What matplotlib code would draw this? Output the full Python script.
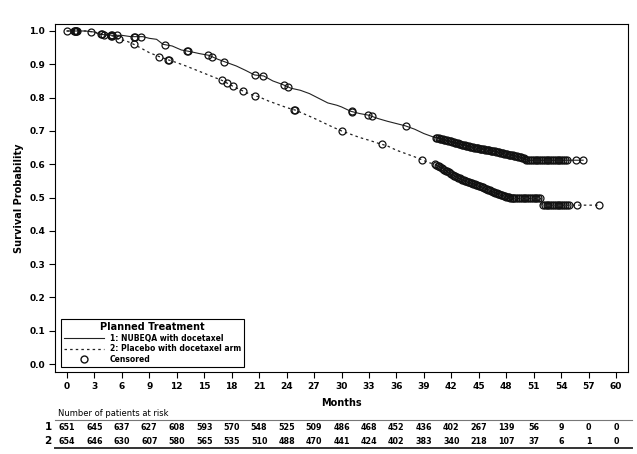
import numpy as np
import matplotlib
matplotlib.use("Agg")
import matplotlib.pyplot as plt
from matplotlib.lines import Line2D
from matplotlib.transforms import blended_transform_factory

plt.rcParams['font.family'] = ['DejaVu Sans']

# arm 1: NUBEQA with docetaxel (months, survival)
arm1_t = [0, 2, 3, 3.5, 5, 6, 7, 8.3, 9, 9.8, 10.5, 11.5, 12.5, 13.5, 14.5, 15.5,
          16.5, 17.5, 18.5, 19.5, 20.5, 21.5, 22.5, 23.5, 24.5, 25.5, 26.5, 27.5,
          28.5, 29.5, 30, 31, 32, 33, 34, 35, 36, 37, 38, 39, 40, 41, 42, 43, 44,
          45, 46, 47, 48, 49, 50, 50.3, 56.4]
arm1_s = [1.0, 1.0, 0.997, 0.99, 0.987, 0.987, 0.983, 0.983, 0.978, 0.975, 0.96,
          0.955, 0.943, 0.938, 0.932, 0.927, 0.915, 0.905, 0.895, 0.882, 0.868,
          0.865, 0.85, 0.84, 0.828, 0.822, 0.812, 0.798, 0.784, 0.777, 0.772,
          0.759, 0.752, 0.747, 0.737, 0.729, 0.722, 0.715, 0.705, 0.692, 0.682,
          0.675, 0.668, 0.66, 0.653, 0.647, 0.642, 0.637, 0.63, 0.625, 0.618,
          0.612, 0.612]

# arm 2: placebo with docetaxel arm
arm2_t = [0, 2, 3, 4, 5, 5.7, 6.5, 7.3, 8, 9, 10, 11, 12, 13, 14, 15, 16, 17, 18,
          19, 20, 21, 22, 23, 24, 25, 26, 27, 28, 29, 30, 31, 32, 33, 34, 35, 36,
          37, 38, 38.8, 39.5, 40.2, 41, 42, 43, 44, 45, 46, 47, 48, 48.8, 51.8,
          51.8, 58.1]
arm2_s = [1.0, 1.0, 0.997, 0.99, 0.985, 0.975, 0.97, 0.96, 0.95, 0.935, 0.924,
          0.914, 0.905, 0.895, 0.884, 0.873, 0.862, 0.851, 0.836, 0.823, 0.81,
          0.802, 0.79, 0.78, 0.77, 0.762, 0.75, 0.738, 0.725, 0.712, 0.70, 0.69,
          0.68, 0.672, 0.663, 0.655, 0.642, 0.632, 0.622, 0.613, 0.605, 0.60,
          0.588, 0.57, 0.556, 0.545, 0.535, 0.524, 0.512, 0.503, 0.497, 0.497,
          0.477, 0.477]

# censored times
cens1 = [0, 0.8, 0.9, 1.0, 1.1, 2.6, 3.7, 4.0, 4.8, 4.9, 5.5, 7.3, 7.4, 8.1,
         10.7, 13.1, 13.2, 15.4, 15.8, 17.2, 20.6, 21.4, 23.7, 24.2, 31.1, 31.2,
         32.9, 33.3, 37.1,
         40.3, 40.45, 40.6, 40.75, 40.9, 41.05, 41.2, 41.35, 41.5, 41.65, 41.8,
         41.95, 42.1, 42.25, 42.4, 42.55, 42.7, 42.85, 43.0, 43.15, 43.3, 43.45,
         43.6, 43.75, 43.9, 44.05, 44.2, 44.35, 44.5, 44.65, 44.8, 44.95, 45.1,
         45.25, 45.4, 45.55, 45.7, 45.85, 46.0, 46.15, 46.3, 46.45, 46.6, 46.75,
         46.9, 47.05, 47.2, 47.35, 47.5, 47.65, 47.8, 47.95, 48.1, 48.25, 48.4,
         48.55, 48.7, 48.85, 49.0, 49.15, 49.3, 49.45, 49.6, 49.75, 49.9, 50.05,
         50.2, 50.4, 50.6, 50.8, 51.0, 51.2, 51.4, 51.6, 51.8, 52.0, 52.2, 52.4,
         52.6, 52.8, 53.0, 53.2, 53.4, 53.6, 53.8, 54.0, 54.2, 54.4, 54.6,
         55.6, 56.4]
cens2 = [0.9, 1.0, 3.8, 4.8, 4.9, 5.7, 7.3, 10.1, 11.0, 11.1, 16.9, 17.5, 18.1,
         19.2, 20.6, 24.8, 24.9, 30.0, 34.4, 38.8,
         40.2, 40.35, 40.5, 40.65, 40.8, 40.95, 41.1, 41.25, 41.4, 41.55, 41.7,
         41.85, 42.0, 42.15, 42.3, 42.45, 42.6, 42.75, 42.9, 43.05, 43.2, 43.35,
         43.5, 43.65, 43.8, 43.95, 44.1, 44.25, 44.4, 44.55, 44.7, 44.85, 45.0,
         45.15, 45.3, 45.45, 45.6, 45.75, 45.9, 46.05, 46.2, 46.35, 46.5, 46.65,
         46.8, 46.95, 47.1, 47.25, 47.4, 47.55, 47.7, 47.85, 48.0, 48.15, 48.3,
         48.45, 48.6, 48.75, 48.9, 49.1, 49.3, 49.5, 49.7, 49.9, 50.1, 50.3,
         50.5, 50.7, 50.9, 51.1, 51.3, 51.5, 51.7,
         52.0, 52.2, 52.4, 52.6, 52.8, 53.0, 53.2, 53.4, 53.6, 53.8, 54.0, 54.2,
         54.4, 54.6, 54.8, 55.7, 58.1]

# number at risk
risk_months = list(range(0, 61, 3))
risk1 = [651, 645, 637, 627, 608, 593, 570, 548, 525, 509, 486, 468, 452, 436,
         402, 267, 139, 56, 9, 0, 0]
risk2 = [654, 646, 630, 607, 580, 565, 535, 510, 488, 470, 441, 424, 402, 383,
         340, 218, 107, 37, 6, 1, 0]

fig = plt.figure(figsize=(6.37, 4.54), dpi=100)
ax = fig.add_axes([55 / 637, 82 / 454, 573 / 637, 348 / 454])

ax.plot(arm1_t, arm1_s, color='#222222', lw=0.8)
ax.plot(arm2_t, arm2_s, color='#222222', lw=0.9, linestyle=(0, (2, 2.5)))
ax.plot(cens1, np.interp(cens1, arm1_t, arm1_s), 'o', mfc='none', mec='#111111',
        ms=5, mew=0.9)
ax.plot(cens2, np.interp(cens2, arm2_t, arm2_s), 'o', mfc='none', mec='#111111',
        ms=5, mew=0.9)

ax.set_xlim(-1.3, 61.3)
ax.set_ylim(-0.024, 1.021)
ax.set_xticks(risk_months)
ax.set_yticks(np.arange(0, 1.01, 0.1))
ax.set_yticklabels([f"{v:.1f}" for v in np.arange(0, 1.01, 0.1)])
ax.tick_params(labelsize=6.5, length=4, width=0.8, pad=3)
for lab in ax.get_xticklabels() + ax.get_yticklabels():
    lab.set_fontweight('bold')
for sp in ax.spines.values():
    sp.set_linewidth(0.8)
ax.set_xlabel("Months", fontsize=7, fontweight='bold', labelpad=5)
ax.set_ylabel("Survival Probability", fontsize=7, fontweight='bold', labelpad=4)

handles = [Line2D([], [], color='#222222', lw=0.8),
           Line2D([], [], color='#222222', lw=0.9, linestyle=(0, (2, 2.5))),
           Line2D([], [], marker='o', mfc='none', mec='#111111', ls='none', ms=5)]
labels = ["1: NUBEQA with docetaxel", "2: Placebo with docetaxel arm", "Censored"]
leg = ax.legend(handles, labels, title="Planned Treatment", loc='lower left',
                bbox_to_anchor=(0.0105, 0.0144), fancybox=False, framealpha=1,
                edgecolor='black', fontsize=5.5, handlelength=5.2,
                borderpad=0.4, labelspacing=0.2, handletextpad=0.8,
                borderaxespad=0)
leg.get_title().set_fontsize(7)
leg.get_title().set_fontweight('bold')
leg.get_frame().set_linewidth(0.8)
for t in leg.get_texts():
    t.set_fontweight('bold')

# risk table
tr = blended_transform_factory(ax.transData, fig.transFigure)
fig.text(58 / 637, 1 - 413 / 454, "Number of patients at risk", fontsize=6,
         va='center', ha='left')
for i, m in enumerate(risk_months):
    fig.text(m, 1 - 427 / 454, str(risk1[i]), transform=tr, fontsize=5.8,
             fontweight='bold', ha='center', va='center')
    fig.text(m, 1 - 441 / 454, str(risk2[i]), transform=tr, fontsize=5.8,
             fontweight='bold', ha='center', va='center')
fig.text(48 / 637, 1 - 427 / 454, "1", fontsize=7.5, fontweight='bold',
         ha='center', va='center')
fig.text(48 / 637, 1 - 441 / 454, "2", fontsize=7.5, fontweight='bold',
         ha='center', va='center')
fig.add_artist(Line2D([55 / 637, 632 / 637], [1 - 420 / 454, 1 - 420 / 454],
                      color='#777777', lw=0.8))
fig.add_artist(Line2D([55 / 637, 632 / 637], [1 - 448 / 454, 1 - 448 / 454],
                      color='#333333', lw=1.4))

fig.savefig("out.png", dpi=100)
